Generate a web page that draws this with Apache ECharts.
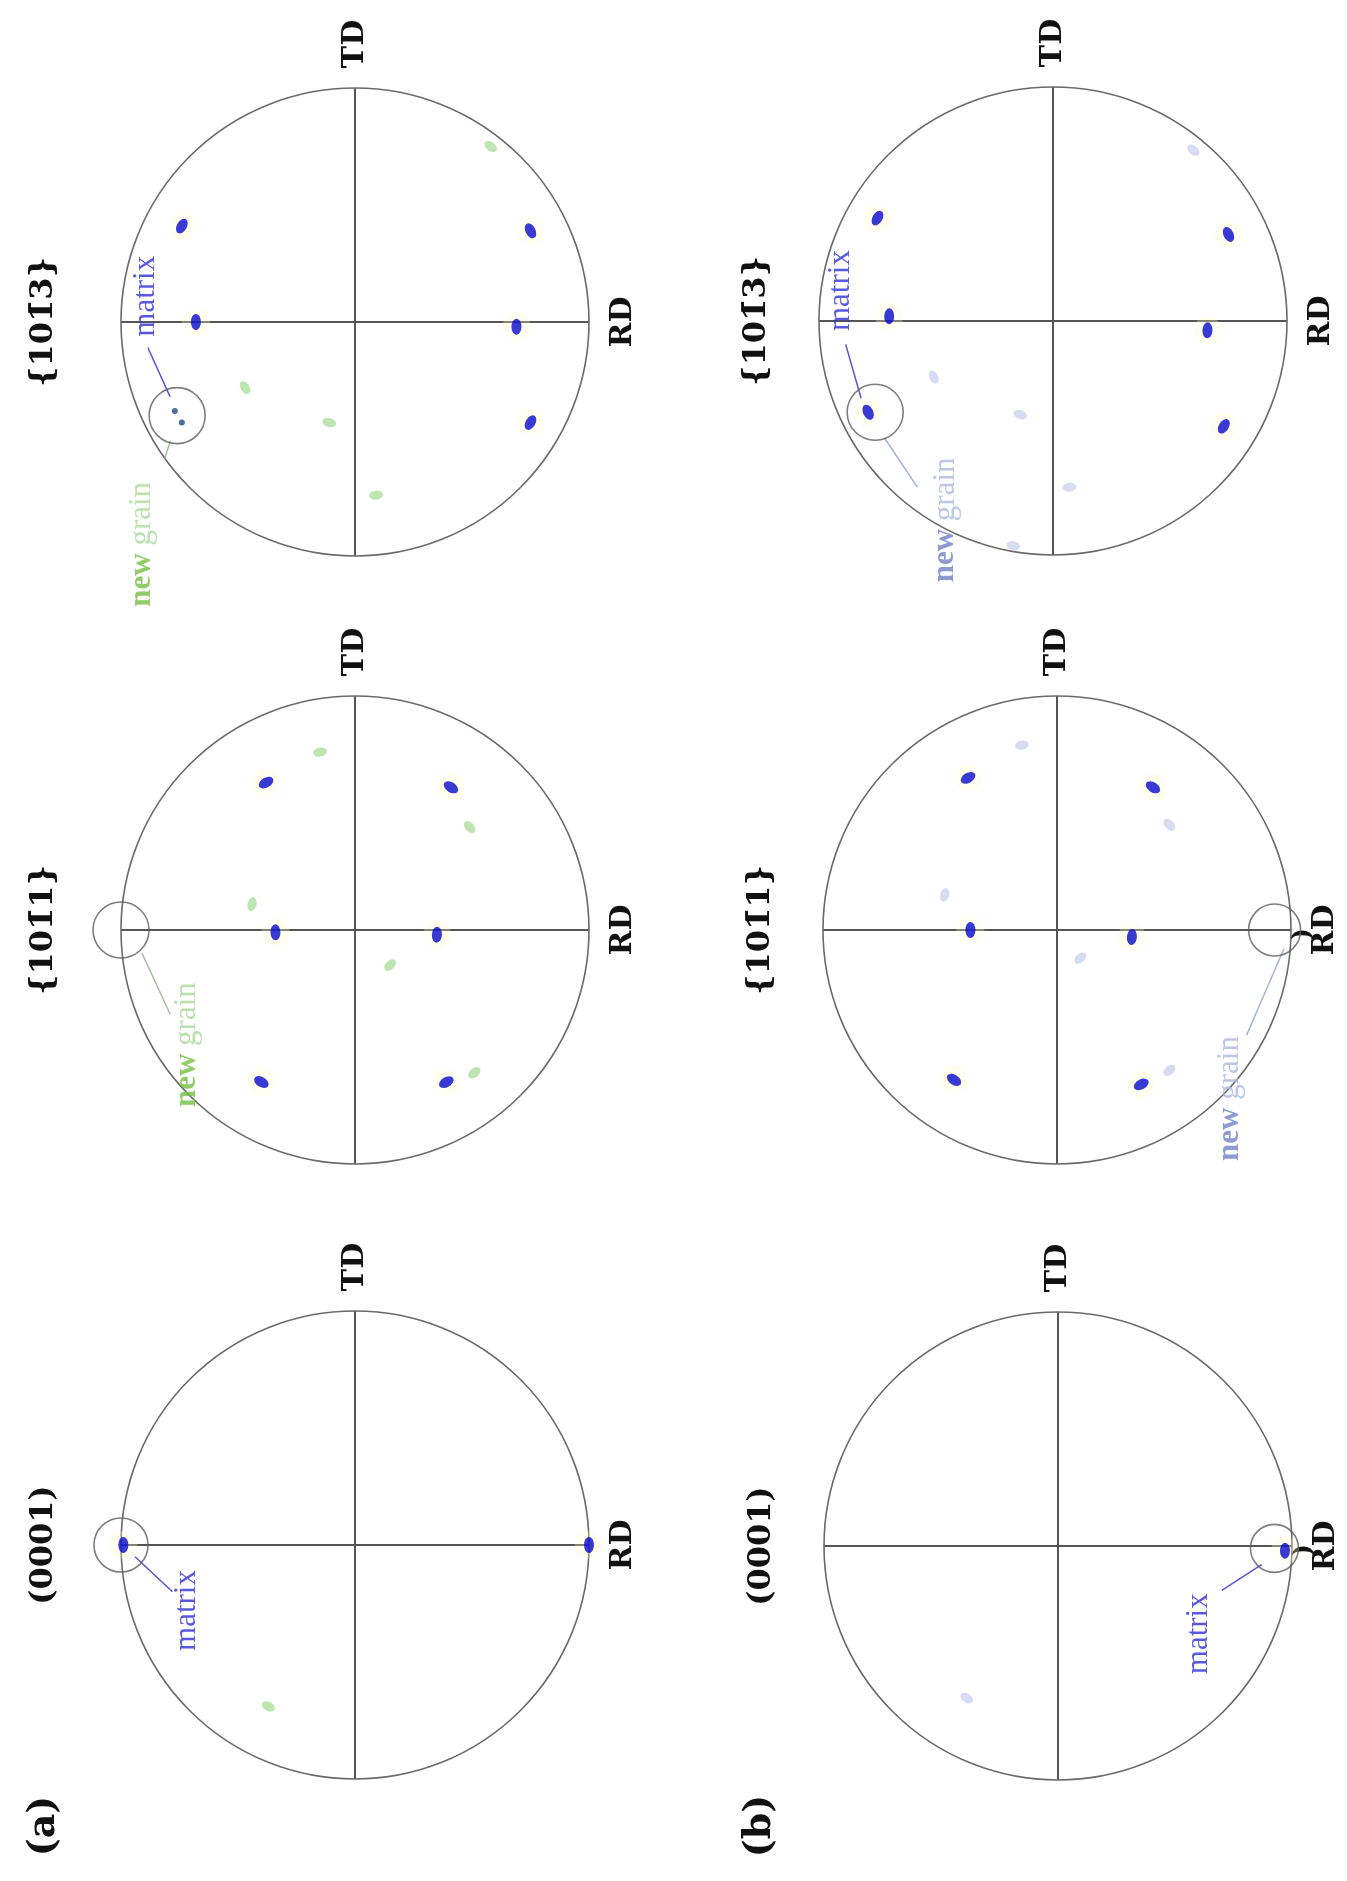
<!DOCTYPE html>
<html>
<head>
<meta charset="utf-8">
<title>Pole figures</title>
<script src="https://cdn.jsdelivr.net/npm/echarts@6/dist/echarts.min.js"></script>
<style>
  html, body { margin: 0; padding: 0; background: #fff; }
  #chart { width: 1347px; height: 1881px; }
</style>
</head>
<body>
<div id="chart"></div>
<script>
// labels
const planeLabels = ['(0001)', '{101\u03041}', '{101\u03043}'];
const sampleLabels = ['(a)', '(b)'];
const axisNames = ['RD', 'TD'];

// spots: [x, y] as a fraction of the projection radius (x toward RD, y toward TD)
const a0001Matrix = [[-0.99, 0.0], [1.0, 0.0]];
const a0001Grain = [[-0.37, -0.69]];
const a1011Matrix = [[-0.38, 0.63], [0.41, 0.61], [-0.34, -0.01], [0.35, -0.02], [-0.40, -0.65], [0.39, -0.65]];
const a1011Grain = [[-0.15, 0.76], [0.49, 0.44], [-0.44, 0.11], [0.15, -0.15], [0.51, -0.61]];
const a1013Matrix = [[-0.74, 0.41], [-0.68, 0.0], [0.75, 0.39], [0.69, -0.02], [0.75, -0.43]];
const a1013Grain = [[0.58, 0.75], [-0.47, -0.28], [-0.11, -0.43], [0.09, -0.74]];
const a1013Overlap = [[-0.77, -0.38], [-0.74, -0.43]];

const b0001Matrix = [[0.97, -0.02]];
const b0001Grain = [[-0.39, -0.65]];
const b1011Matrix = [[-0.38, 0.65], [0.41, 0.61], [-0.37, 0.0], [0.32, -0.03], [-0.44, -0.64], [0.36, -0.66]];
const b1011Grain = [[-0.15, 0.79], [0.48, 0.45], [-0.48, 0.15], [0.10, -0.12], [0.48, -0.60]];
const b1013Matrix = [[-0.75, 0.44], [-0.70, 0.02], [0.75, 0.37], [0.66, -0.04], [0.73, -0.45], [-0.79, -0.39]];
const b1013Grain = [[0.60, 0.73], [-0.51, -0.24], [-0.14, -0.40], [0.07, -0.71], [-0.17, -0.96]];

const R = 234;
const grainColors = ['#a6dc98', '#c6d2ec'];
const grainText = [['#74c043', '#a9d99a'], ['#6f83c6', '#a9b9e2']];
const matrixColor = '#0808cc';
const serif = 'Liberation Serif';
const bold = 'DejaVu Serif';

const panels = [
  { s: 0, p: 0, c: [355, 1545], matrix: a0001Matrix, grain: a0001Grain,
    ring: [-1, 0], ringSize: 54,
    notes: [{ kind: 'matrix', at: [-0.72, -0.28], from: [-0.94, -0.05], to: [-0.78, -0.20] }] },
  { s: 0, p: 1, c: [355, 930], matrix: a1011Matrix, grain: a1011Grain,
    ring: [-1, 0], ringSize: 56,
    notes: [{ kind: 'grain', at: [-0.72, -0.49], from: [-0.91, -0.10], to: [-0.79, -0.36] }] },
  { s: 0, p: 2, c: [355, 322], matrix: a1013Matrix, grain: a1013Grain, overlap: a1013Overlap,
    ring: [-0.76, -0.40], ringSize: 56,
    notes: [{ kind: 'matrix', at: [-0.895, 0.11], from: [-0.885, -0.11], to: [-0.79, -0.32] },
            { kind: 'grain', at: [-0.91, -0.95], from: [-0.79, -0.51], to: [-0.85, -0.70] }] },
  { s: 1, p: 0, c: [1058, 1546], matrix: b0001Matrix, grain: b0001Grain,
    ring: [0.925, -0.01], ringSize: 48, hook: true,
    notes: [{ kind: 'matrix', at: [0.60, -0.375], from: [0.87, -0.08], to: [0.70, -0.19] }] },
  { s: 1, p: 1, c: [1057, 930], matrix: b1011Matrix, grain: b1011Grain,
    ring: [0.93, 0], ringSize: 52, hook: true,
    notes: [{ kind: 'grain', at: [0.74, -0.72], from: [0.97, -0.08], to: [0.81, -0.45] }] },
  { s: 1, p: 2, c: [1053, 321], matrix: b1013Matrix, grain: b1013Grain,
    ring: [-0.76, -0.39], ringSize: 56,
    notes: [{ kind: 'matrix', at: [-0.905, 0.13], from: [-0.886, -0.10], to: [-0.82, -0.33] },
            { kind: 'grain', at: [-0.46, -0.85], from: [-0.72, -0.50], to: [-0.58, -0.71] }] }
];

function toPolar(pt) {
  const r = Math.hypot(pt[0], pt[1]);
  const a = (Math.atan2(pt[1], pt[0]) * 180 / Math.PI + 360) % 360;
  return [r, a];
}

const polar = [], angleAxis = [], radiusAxis = [], series = [], graphic = [];

panels.forEach((pn, i) => {
  polar.push({ center: pn.c, radius: R });
  angleAxis.push({
    polarIndex: i, type: 'value', min: 0, max: 360, interval: 90,
    startAngle: 0, clockwise: false,
    axisLine: { lineStyle: { color: '#6a6a6a', width: 1.6 } },
    axisTick: { show: false }, axisLabel: { show: false },
    splitLine: { show: true, lineStyle: { color: '#555', width: 2 } }
  });
  radiusAxis.push({ polarIndex: i, min: 0, max: 1, show: false, splitLine: { show: false } });

  const base = { coordinateSystem: 'polar', polarIndex: i, clip: false, silent: true, animation: false };

  // faint yellow halo round the matrix poles
  series.push(Object.assign({}, base, {
    type: 'scatter', data: pn.matrix.map(toPolar), symbolSize: 28,
    itemStyle: { color: 'rgba(255,250,200,0.35)' }, z: 1
  }));
  series.push(Object.assign({}, base, {
    type: 'scatter', data: pn.grain.map(toPolar), symbolSize: [9, 14],
    symbolRotate: v => v[1],
    itemStyle: { color: grainColors[pn.s], opacity: 0.75 }, z: 2
  }));
  series.push(Object.assign({}, base, {
    type: 'scatter', data: pn.matrix.map(toPolar), symbolSize: [10, 16],
    symbolRotate: v => v[1],
    itemStyle: { color: matrixColor }, z: 3
  }));
  if (pn.overlap) {
    series.push(Object.assign({}, base, {
      type: 'scatter', data: pn.overlap.map(toPolar), symbolSize: 6,
      itemStyle: { color: '#1b4f86' }, z: 3
    }));
  }
  series.push(Object.assign({}, base, {
    type: 'scatter', data: [toPolar(pn.ring)], symbolSize: pn.ringSize,
    itemStyle: { color: 'rgba(0,0,0,0)', borderColor: '#5e5e5e', borderWidth: 1.6 }, z: 4
  }));

  pn.notes.forEach(nt => {
    const isM = nt.kind === 'matrix';
    series.push(Object.assign({}, base, {
      type: 'line', data: [toPolar(nt.from), toPolar(nt.to)], symbol: 'none',
      lineStyle: { color: isM ? '#5656d6' : (pn.s ? '#a6b2d6' : '#aabca6'), width: 1.5 }, z: 4
    }));
    series.push(Object.assign({}, base, {
      type: 'scatter', data: [toPolar(nt.at)], symbolSize: 1,
      itemStyle: { color: 'rgba(0,0,0,0)' }, z: 5,
      label: {
        show: true, position: 'inside', rotate: 90,
        fontFamily: serif, fontSize: 31,
        color: '#3030d8',
        formatter: isM ? 'matrix' : '{n|new} {g|grain}',
        rich: {
          n: { fontFamily: serif, fontSize: 31, fontWeight: 'bold', color: grainText[pn.s][0] },
          g: { fontFamily: serif, fontSize: 31, color: grainText[pn.s][1] }
        }
      }
    }));
  });

  const txt = (x, y, text, size) => graphic.push({
    type: 'text', x: x, y: y, rotation: Math.PI / 2, silent: true,
    style: {
      text: text, fill: '#111', fontFamily: bold, fontWeight: 'bold', fontSize: size,
      textAlign: 'center', textVerticalAlign: 'middle', align: 'center', verticalAlign: 'middle'
    }
  });
  txt(pn.c[0] + R + 34, pn.c[1], axisNames[0], 30);
  txt(pn.c[0], pn.c[1] - R - 44, axisNames[1], 30);
  txt(pn.c[0] - (pn.s ? 296 : 311), pn.c[1], planeLabels[pn.p], 32);
  if (pn.hook) txt(pn.c[0] + R + 12, pn.c[1] + 4, ')', 26);
  if (pn.p === 0) txt(pn.c[0] - (pn.s ? 298 : 311), 1826, sampleLabels[pn.s], 38);
});

const chart = echarts.init(document.getElementById('chart'));
chart.setOption({
  backgroundColor: '#ffffff',
  animation: false,
  polar: polar,
  angleAxis: angleAxis,
  radiusAxis: radiusAxis,
  series: series,
  graphic: graphic
});
</script>
</body>
</html>
